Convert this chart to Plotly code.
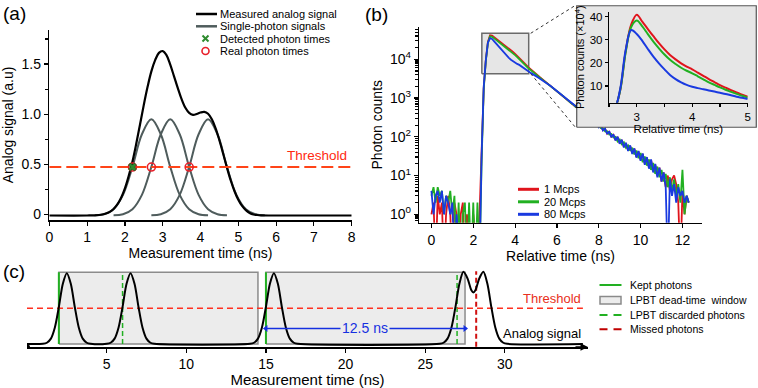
import plotly.graph_objects as go

W, H = 758, 388
FONT = "Arial, Liberation Sans, Helvetica, sans-serif"


def px(x):
    return x / W


def py(y):
    return 1 - y / H


# ---------------- Panel (a) data ----------------
threshold_a = 0.473
black_t = [0, 1.0, 1.2, 1.4, 1.5, 1.6, 1.7, 1.8, 1.9, 2.0, 2.1, 2.2, 2.3, 2.4, 2.5, 2.6, 2.7, 2.8, 2.9, 3.0,
           3.1, 3.2, 3.3, 3.4, 3.5, 3.6, 3.7, 3.8, 3.9, 4.0, 4.1, 4.2, 4.3, 4.4, 4.5, 4.6, 4.7, 4.8, 4.9, 5.0,
           5.1, 5.2, 5.3, 5.4, 5.5, 5.6, 5.8, 6.0, 8.0]
black_v = [-0.01, -0.01, -0.008, 0.0, 0.009, 0.026, 0.055, 0.10, 0.167, 0.261, 0.384, 0.528, 0.705, 0.898,
           1.093, 1.273, 1.427, 1.539, 1.612, 1.63, 1.59, 1.495, 1.378, 1.26, 1.15, 1.064, 1.013, 0.994, 1.002,
           1.017, 1.024, 1.005, 0.949, 0.86, 0.74, 0.605, 0.467, 0.339, 0.232, 0.147, 0.085, 0.043, 0.015, 0.0,
           -0.005, -0.008, -0.01, -0.01, -0.01]
gray_offsets = [-1.5, -1.25, -1.0, -0.75, -0.5, -0.25, 0, 0.25, 0.5, 0.75, 1.0, 1.25, 1.5]
gray_shape = [-0.008, 0.003, 0.053, 0.196, 0.475, 0.80, 0.95, 0.80, 0.475, 0.196, 0.053, 0.003, -0.008]
gray_peaks = [2.7, 3.2, 4.2]
detected_times = [2.2]
real_times = [2.2, 2.7, 3.7]

# ---------------- Panel (b) data ----------------
rel_time = [round(i * 0.1, 1) for i in range(124)]
red_counts = [
    1, 2, 0, 3, 1, 2, 0, 1, 3, 1, 0, 2, 1, 0, 1, 2, 0, 1, 0, 0, 1, 0, 0, 1,
    30, 1800, 9500, 28000, 41700, 40700, 37150, 33900, 30900, 28200,
    25700, 23400, 21400, 19500, 17400, 15500, 13800, 12300, 11000, 9550,
    8320, 7410, 6460, 5750, 5130, 4680, 4170, 3770, 3400, 3080,
    2780, 2510, 2270, 2050, 1850, 1670, 1510, 1365, 1230, 1110,
    1000, 905, 800, 745, 655, 610, 530, 500, 430, 410,
    350, 340, 280, 275, 225, 228, 180, 192, 148, 160,
    120, 135, 100, 112, 82, 98, 68, 82, 55, 68,
    45, 58, 38, 49, 30, 42, 25, 36, 20, 29,
    16, 25, 13, 19, 10, 16, 7, 12, 5, 10,
    4, 8, 10, 6, 2, 0, 4, 1, 3, 2]
green_counts = [
    3, 5, 2, 5, 3, 4, 1, 3, 2, 4, 1, 3, 0, 2, 0, 1, 2, 0, 2, 0, 2, 0, 2, 0,
    25, 1700, 9000, 26500, 39000, 38000, 34600, 31500, 28700, 26100,
    23700, 21500, 19600, 17900, 16000, 14300, 12800, 11400, 10200, 8900,
    7800, 6950, 6100, 5450, 4900, 4480, 4020, 3650, 3310, 3010,
    2730, 2480, 2250, 2040, 1840, 1665, 1505, 1360, 1225, 1110,
    995, 880, 820, 725, 670, 590, 555, 480, 450, 385,
    372, 318, 300, 255, 248, 205, 200, 168, 165, 138,
    140, 115, 118, 96, 100, 76, 85, 64, 72, 52,
    60, 44, 52, 35, 44, 28, 38, 22, 31, 18,
    26, 14, 21, 11, 17, 9, 14, 7, 11, 5,
    9, 4, 8, 3, 6, 2, 14, 1, 3, 2]
blue_counts = [
    4, 1, 3, 4, 2, 4, 1, 3, 2, 1, 2, 0, 1, 0, 0, 0, 0, 0, 0, 0, 0, 0, 0, 0,
    35, 2000, 9500, 27000, 35000, 33500, 29000, 25100, 21600, 18900,
    16200, 14000, 12400, 10900, 9750, 8850, 8150, 7600, 7150, 6500,
    5900, 5480, 4970, 4600, 4260, 4020, 3670, 3390, 3130, 2900,
    2670, 2460, 2250, 2040, 1840, 1665, 1500, 1370, 1220, 1115,
    990, 910, 795, 750, 650, 615, 525, 505, 425, 415,
    345, 345, 275, 280, 220, 232, 176, 195, 145, 163,
    118, 138, 98, 115, 80, 100, 66, 84, 53, 70,
    43, 60, 36, 50, 29, 43, 24, 37, 19, 30,
    15, 26, 12, 20, 9, 16, 7, 12, 5, 0,
    8, 3, 6, 2, 5, 3, 4, 2, 3, 2]
rate_labels = ["1 Mcps", "20 Mcps", "80 Mcps"]
rate_colors = ["#e0141c", "#22b022", "#1a3ae0"]

inset_t = [round(2.5 + i * 0.1, 1) for i in range(26)]
inset_red = [0, 0.5, 8, 25, 36.5, 40.8, 37.8, 34.6, 31.5, 28.5, 25.8, 23.4, 21.5, 19.8, 18.4, 17.2,
             15.8, 14.4, 13.0, 11.7, 10.4, 9.3, 8.2, 7.2, 6.3, 5.4]
inset_green = [0, 0.5, 8, 24.5, 35.5, 38.3, 35.8, 32.4, 29.2, 26.3, 23.6, 21.3, 19.5, 17.9, 16.6, 15.5,
               14.2, 12.9, 11.6, 10.5, 9.4, 8.4, 7.5, 6.6, 5.8, 5.0]
inset_blue = [0, 0.5, 8.5, 25.5, 34.2, 32.5, 29.5, 26.0, 22.7, 19.8, 17.2, 14.8, 13.0, 11.6, 10.5, 9.7,
              9.1, 8.6, 8.1, 7.6, 7.1, 6.6, 6.0, 5.4, 4.9, 4.4]
zoom_box_x = [2.41, 4.65]
zoom_box_y = [4200, 47000]

# ---------------- Panel (c) data ----------------
threshold_c = 0.505
pulse_offsets = [-1.5, -1.25, -1.0, -0.75, -0.5, -0.25, 0, 0.25, 0.5, 0.75, 1.0, 1.25, 1.5]
pulse_shape = [0.003, 0.018, 0.076, 0.234, 0.524, 0.851, 1.0, 0.851, 0.524, 0.234, 0.076, 0.018, 0.003]
single_pulse_times = [2.5, 6.5, 15.5]
double_t = [25.9, 26.15, 26.4, 26.65, 26.9, 27.15, 27.4, 27.65, 27.9, 28.025, 28.15, 28.4, 28.65, 28.9,
            29.15, 29.4, 29.65, 29.9, 30.15]
double_v = [0.003, 0.018, 0.076, 0.234, 0.525, 0.856, 1.02, 0.93, 0.76, 0.73, 0.76, 0.93, 1.02, 0.856,
            0.525, 0.234, 0.076, 0.018, 0.003]
signal_end = 34.9
window_starts = [2.0, 15.0]
dead_time = 12.5
window_top = 1.014
kept_times = [2.0, 15.0]
discarded_times = [6.0, 27.0]
missed_times = [28.2]
c_xticks = [5, 10, 15, 20, 25, 30]

fig = go.Figure()

# ---- (a) traces ----
for p in gray_peaks:
    fig.add_trace(go.Scatter(x=[p + o for o in gray_offsets], y=gray_shape, mode="lines",
                             line=dict(color="#4f5c5c", width=2, shape="spline"), xaxis="x", yaxis="y"))
fig.add_trace(go.Scatter(x=black_t, y=black_v, mode="lines",
                         line=dict(color="black", width=2.2, shape="spline"), xaxis="x", yaxis="y"))
fig.add_trace(go.Scatter(x=[0, 8], y=[threshold_a, threshold_a], mode="lines",
                         line=dict(color="#ff4418", width=2, dash="12px,5px"), xaxis="x", yaxis="y"))
fig.add_trace(go.Scatter(x=real_times, y=[threshold_a] * len(real_times), mode="markers",
                         marker=dict(symbol="circle-open", size=8, color="#e8202a", line=dict(width=1.6)),
                         xaxis="x", yaxis="y"))
fig.add_trace(go.Scatter(x=detected_times, y=[threshold_a] * len(detected_times), mode="markers",
                         marker=dict(symbol="x", size=7, color="#2e8b2e", line=dict(width=0.8, color="#1d5a1d")),
                         xaxis="x", yaxis="y"))

# ---- (b) main traces ----
fig.add_trace(go.Scatter(x=[zoom_box_x[0], zoom_box_x[1], zoom_box_x[1], zoom_box_x[0], zoom_box_x[0]],
                         y=[zoom_box_y[0], zoom_box_y[0], zoom_box_y[1], zoom_box_y[1], zoom_box_y[0]],
                         mode="lines", fill="toself", fillcolor="rgba(200,200,200,0.45)",
                         line=dict(color="#6a6a6a", width=1.5), xaxis="x2", yaxis="y2"))
for counts, col in zip([red_counts, green_counts, blue_counts], rate_colors):
    fig.add_trace(go.Scatter(x=rel_time, y=[c if c > 0 else 0.05 for c in counts], mode="lines",
                             line=dict(color=col, width=1.8), xaxis="x2", yaxis="y2"))

# ---- inset background ----
fig.add_trace(go.Scatter(x=[0, 1, 1, 0, 0], y=[0, 0, 1, 1, 0], mode="lines", fill="toself",
                         fillcolor="#e6e6e6", line=dict(color="#555555", width=1.2), xaxis="x3", yaxis="y3"))
# ---- inset traces ----
for vals, col in zip([inset_red, inset_green, inset_blue], rate_colors):
    fig.add_trace(go.Scatter(x=inset_t, y=vals, mode="lines",
                             line=dict(color=col, width=2, shape="spline"), xaxis="x4", yaxis="y4"))

# ---- (c) traces ----
wx, wy = [], []
for s in window_starts:
    wx += [s, s + dead_time, s + dead_time, s, s, None]
    wy += [0, 0, window_top, window_top, 0, None]
fig.add_trace(go.Scatter(x=wx, y=wy, mode="lines", fill="toself", fillcolor="#ececec",
                         line=dict(color="#8c8c8c", width=1.5), xaxis="x5", yaxis="y5"))


def vlines(times, y0, y1):
    xs, ys = [], []
    for t in times:
        xs += [t, t, None]
        ys += [y0, y1, None]
    return xs, ys


kx, ky = vlines(kept_times, 0, window_top)
fig.add_trace(go.Scatter(x=kx, y=ky, mode="lines", line=dict(color="#22b022", width=2), xaxis="x5", yaxis="y5"))
dx, dy = vlines(discarded_times, 0, window_top)
fig.add_trace(go.Scatter(x=dx, y=dy, mode="lines", line=dict(color="#22b022", width=1.5, dash="5px,3px"),
                         xaxis="x5", yaxis="y5"))
mx, my = vlines(missed_times, -0.04, 1.03)
fig.add_trace(go.Scatter(x=mx, y=my, mode="lines", line=dict(color="#d01010", width=2, dash="5px,3px"),
                         xaxis="x5", yaxis="y5"))
fig.add_trace(go.Scatter(x=[0, signal_end], y=[threshold_c, threshold_c], mode="lines",
                         line=dict(color="#ff3020", width=1.6, dash="6px,4px"), xaxis="x5", yaxis="y5"))
sig_t = [0]
sig_v = [0]
for p in single_pulse_times:
    sig_t += [p + o for o in pulse_offsets]
    sig_v += pulse_shape
sig_t += double_t + [signal_end]
sig_v += double_v + [0]
fig.add_trace(go.Scatter(x=sig_t, y=sig_v, mode="lines",
                         line=dict(color="black", width=2, shape="spline", smoothing=0.8), xaxis="x5", yaxis="y5"))
arrow_y = 0.22
fig.add_trace(go.Scatter(x=[window_starts[1], window_starts[1] + dead_time], y=[arrow_y, arrow_y],
                         mode="lines+markers", line=dict(color="#1530e0", width=1.5),
                         marker=dict(symbol=["triangle-left", "triangle-right"], size=6, color="#1530e0"),
                         xaxis="x5", yaxis="y5"))


def ax_style(**kw):
    base = dict(showline=True, linecolor="black", linewidth=1.5, ticks="outside", tickcolor="black",
                ticklen=4, tickwidth=1.2, showgrid=False, zeroline=False, automargin=False,
                tickfont=dict(size=14, color="black"), title_font=dict(size=14, color="black"))
    base.update(kw)
    return base


fig.update_layout(
    template="none",
    width=W, height=H, margin=dict(l=0, r=0, t=0, b=0, pad=0), autosize=False,
    paper_bgcolor="white", plot_bgcolor="rgba(0,0,0,0)", showlegend=False, hovermode=False,
    font=dict(family=FONT, color="black"),
    xaxis=ax_style(domain=[px(49.3), px(351.7)], range=[0, 8], dtick=1, anchor="y",
                   title=dict(text="Measurement time (ns)", standoff=3)),
    yaxis=ax_style(domain=[py(220), py(30)], range=[-0.055, 1.84], tickvals=[0, 0.5, 1, 1.5],
                   ticktext=["0", "0.5", "1.0", "1.5"], anchor="x",
                   minor=dict(dtick=0.25, ticks="outside", ticklen=3, tickcolor="black"),
                   title=dict(text="Analog signal (a.u)", standoff=6)),
    xaxis2=ax_style(domain=[px(419.3), px(701.7)], range=[-0.58, 12.92], tickvals=list(range(0, 13, 2)),
                    anchor="y2", title=dict(text="Relative time (ns)", standoff=3)),
    yaxis2=ax_style(type="log", domain=[py(222.7), py(26.7)], range=[-0.217, 4.84],
                    tickvals=[1, 10, 100, 1000, 10000],
                    ticktext=["10<sup>0</sup>", "10<sup>1</sup>", "10<sup>2</sup>", "10<sup>3</sup>", "10<sup>4</sup>"],
                    minor=dict(ticks="outside", ticklen=2.5, dtick="D1", tickcolor="black"),
                    anchor="x2", title=dict(text="Photon counts", standoff=4)),
    xaxis3=dict(domain=[px(576), px(757)], range=[-0.004, 1.004], visible=False, anchor="y3"),
    yaxis3=dict(domain=[py(128), py(5)], range=[-0.006, 1.006], visible=False, anchor="x3"),
    xaxis4=ax_style(domain=[px(609), px(747.7)], range=[2.5, 5.0], tickvals=[3, 4, 5], anchor="y4",
                    linewidth=1.2, ticklen=3, tickfont=dict(size=11.5, color="black"),
                    minor=dict(dtick=0.5, ticks="outside", ticklen=3, tickcolor="black"),
                    title=dict(text="Relative time (ns)", standoff=1, font=dict(size=11.5, color="black"))),
    yaxis4=ax_style(domain=[py(102.7), py(11.7)], range=[2.8, 42.1], tickvals=[10, 20, 30, 40], anchor="x4",
                    linewidth=1.2, ticklen=3, tickfont=dict(size=11.5, color="black"),
                    title=dict(text="Photon counts (×10<sup>4</sup>)", standoff=2,
                               font=dict(size=11, color="black"))),
    xaxis5=ax_style(domain=[px(27), px(588)], range=[0, 35.22], tickvals=c_xticks, anchor="y5",
                    title=dict(text="Measurement time (ns)", standoff=2, font=dict(size=15, color="black"))),
    yaxis5=dict(domain=[py(347), py(265)], range=[-0.042, 1.117], visible=False, anchor="x5"),
)

shapes = []
annotations = []


def text(x, y, s, size=11, color="black", xanchor="left", **kw):
    annotations.append(dict(x=px(x), y=py(y), xref="paper", yref="paper", text=s, showarrow=False,
                            xanchor=xanchor, yanchor="middle", font=dict(size=size, color=color), **kw))


def pline(x0, y0, x1, y1, color, width, dash="solid"):
    shapes.append(dict(type="line", xref="paper", yref="paper", x0=px(x0), y0=py(y0), x1=px(x1), y1=py(y1),
                       line=dict(color=color, width=width, dash=dash)))


# panel labels
text(14, 14, "(a)", size=19, xanchor="center")
text(376, 15, "(b)", size=19, xanchor="center")
text(14, 271, "(c)", size=19, xanchor="center")

# legend (a)
pline(196, 14, 217, 14, "black", 2.5)
text(218, 14, "Measured analog signal")
pline(196, 26.3, 217, 26.3, "#4f5c5c", 2.5)
text(218, 26.3, "Single-photon signals")
pline(202.5, 35.5, 208.5, 41.5, "#2e8b2e", 2)
pline(202.5, 41.5, 208.5, 35.5, "#2e8b2e", 2)
text(218, 38.6, "Detected photon times")
shapes.append(dict(type="circle", xref="paper", yref="paper", x0=px(202), x1=px(209), y0=py(54.5), y1=py(47.5),
                   line=dict(color="#e8202a", width=1.6)))
text(218, 51, "Real photon times")

# legend (b)
for i, (lab, col) in enumerate(zip(rate_labels, rate_colors)):
    yy = 189.3 + i * 12.5
    pline(518, yy, 539, yy, col, 3)
    text(542, yy, lab)

# legend (c)
pline(599.5, 285, 621.5, 285, "#22b022", 2)
text(628, 285, "Kept photons", size=10.5)
shapes.append(dict(type="rect", xref="paper", yref="paper", x0=px(600), x1=px(621), y0=py(304), y1=py(296.5),
                   fillcolor="#ececec", line=dict(color="#8a8a8a", width=1.5)))
text(628, 300, "LPBT dead-time  window", size=10.5)
pline(599.5, 315, 621.5, 315, "#22b022", 2, dash="8px,6px")
text(628, 315, "LPBT discarded photons", size=10.5)
pline(599.5, 329.3, 621.5, 329.3, "#c00000", 2, dash="8px,6px")
text(628, 329.3, "Missed photons", size=10.5)

# dotted connectors for inset
pline(530.7, 33.3, 576, 5, "#333333", 1, dash="dot")
pline(530.7, 73.7, 576, 128, "#333333", 1, dash="dot")

# data-anchored texts
annotations.append(dict(x=7.92, y=threshold_a, xref="x", yref="y", text="Threshold", showarrow=False,
                        xanchor="right", yanchor="bottom", yshift=2, font=dict(size=13.5, color="#ff2a10")))
annotations.append(dict(x=signal_end, y=threshold_c, xref="x5", yref="y5", text="Threshold", showarrow=False,
                        xanchor="right", yanchor="bottom", yshift=0, font=dict(size=13, color="#e83020")))
annotations.append(dict(x=signal_end, y=0, xref="x5", yref="y5", text="Analog signal", showarrow=False,
                        xanchor="right", yanchor="bottom", yshift=1, font=dict(size=13, color="black")))
annotations.append(dict(x=window_starts[1] + dead_time / 2, y=arrow_y, xref="x5", yref="y5", text="12.5 ns",
                        showarrow=False, bgcolor="#ececec", borderpad=1, font=dict(size=14, color="#1530e0")))
# axis arrow for (c)
annotations.append(dict(x=35.22, y=-0.042, xref="x5", yref="y5", ax=-14, ay=0, axref="pixel", ayref="pixel",
                        text="", showarrow=True, arrowhead=2, arrowsize=1, arrowwidth=1.5, arrowcolor="black"))
shapes.append(dict(type="circle", xref="x5", yref="y5", xsizemode="pixel", ysizemode="pixel", xanchor=0,
                   yanchor=-0.042, x0=-2.5, x1=2.5, y0=-2.5, y1=2.5, fillcolor="black",
                   line=dict(color="black", width=1)))

fig.update_layout(shapes=shapes, annotations=annotations)
fig.write_html("out.html", config={"displayModeBar": False, "staticPlot": True},
               post_script="document.body.style.margin='0';document.body.style.padding='0';"
                           "document.body.style.overflow='hidden';")
